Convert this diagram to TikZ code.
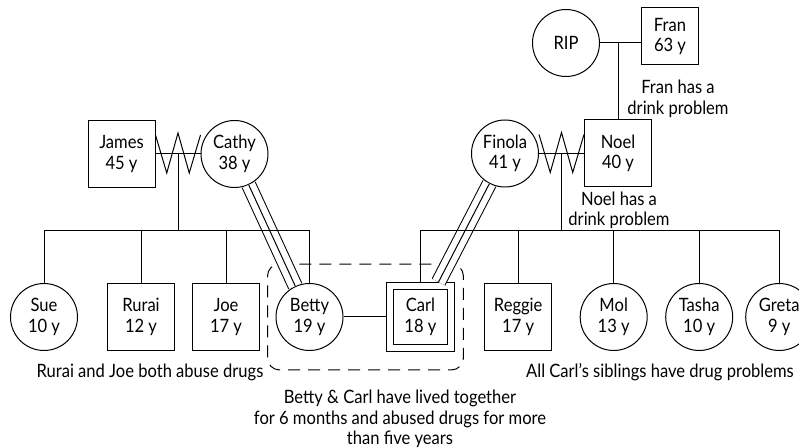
\documentclass[tikz,border=0pt]{standalone}
\usepackage{fontspec}
\setmainfont{Lato}[FakeStretch=0.9]
\usepackage{tikz}
\usetikzlibrary{positioning,calc,fit}
\newcommand{\gen}{\fontsize{9.2}{10.3}\selectfont}
\tikzset{
  man/.style={rectangle,draw,minimum size=33.5pt,inner sep=1pt,
    align=center,font=\gen},
  woman/.style={circle,draw,minimum size=33.5pt,inner sep=1pt,
    align=center,font=\gen},
  note/.style={align=center,font=\gen,inner sep=0pt},
  tri/.style={double,double distance=6.6pt},
  pair/.style={draw,dash pattern=on 6pt off 4pt,rounded corners=6pt},
}
% hostile partners: zigzag over the marriage line
\newcommand{\feud}[2]{\draw ([yshift=9.5pt]#1.east) -- ++(5.625pt,-19pt)
  -- ++(5.625pt,20pt) -- ++(5.625pt,-20pt) -- ++(5.625pt,19pt);}
% very close tie: three lines
\newcommand{\bond}[2]{\draw[tri] (#1) -- (#2); \draw (#1) -- (#2);}

\begin{document}
\begin{tikzpicture}[x=0.5pt,y=-0.5pt,line width=0.5pt]
  \useasboundingbox (0,0) rectangle (799,448);
  % parents and grandparents
  \node[man] (james) at (121.5,154) {James\\45 y};
  \node[woman,right=22.5pt of james] (cathy) {Cathy\\38 y};
  \node[woman] (finola) at (505,153.5) {Finola\\41 y};
  \node[man,right=22.5pt of finola] (noel) {Noel\\40 y};
  \node[woman] (rip) at (566,43) {RIP};
  \node[man,minimum size=28.5pt] (fran) at (670,36.5) {Fran\\63 y};
  \node[note] (franx) at (678,99) {Fran has a\\drink problem};
  \node[note] (noelx) at (619,210.5) {Noel has a\\drink problem};
  % children
  \node[woman] (sue) at (44,317) {Sue\\10 y};
  \node[man,right=14.5pt of sue] (rurai) {Rurai\\12 y};
  \node[man,right=8.5pt of rurai] (joe) {Joe\\17 y};
  \node[woman,right=7.75pt of joe] (betty) {Betty\\19 y};
  \node[man,minimum size=30.75pt,double,double distance=3.2pt,outer sep=2.1pt,
    right=21pt of betty] (carl) {Carl\\18 y};
  \node[man,right=14.4pt of carl] (reggie) {Reggie\\17 y};
  \node[woman,right=13.75pt of reggie] (mol) {Mol\\13 y};
  \node[woman,right=8.75pt of mol] (tasha) {Tasha\\10 y};
  \node[woman,right=6pt of tasha] (greta) {Greta\\9 y};
  \node[pair,fit=(betty)(carl),inner xsep=4pt,inner ysep=9pt] (bc) {};
  % notes
  \node[note] (rjx) at (150,372) {Rurai and Joe both abuse drugs};
  \node[note] (sibx) at (660,372) {All Carl's siblings have drug problems};
  \node[note] (bcx) at (400,419) {Betty \& Carl have lived together\\
    for 6 months and abused drugs for more\\than five years};
  % ties
  \bond{cathy}{betty}
  \bond{finola}{carl}
  \coordinate (row) at (0,231);
  \draw (james) -- (cathy); \feud{james}{cathy}
  \draw (finola) -- (noel); \feud{finola}{noel}
  \draw (rip) -- (rip -| fran.west);
  \draw (noel.north) -- (noel.north |- rip);
  \coordinate (jc) at ($(james.east)!.5!(cathy.west)$);
  \coordinate (fn) at ($(finola.east)!.5!(noel.west)$);
  \draw (jc) -- (jc |- row);
  \draw (fn) -- (fn |- row);
  \draw (sue.north) |- (betty.north |- row) -- (betty.north);
  \foreach \c in {rurai,joe} \draw (\c.north) -- (\c.north |- row);
  \draw (carl.north) |- (greta.north |- row) -- (greta.north);
  \foreach \c in {reggie,mol,tasha} \draw (\c.north) -- (\c.north |- row);
  \draw (betty) -- (carl);
\end{tikzpicture}
\end{document}
